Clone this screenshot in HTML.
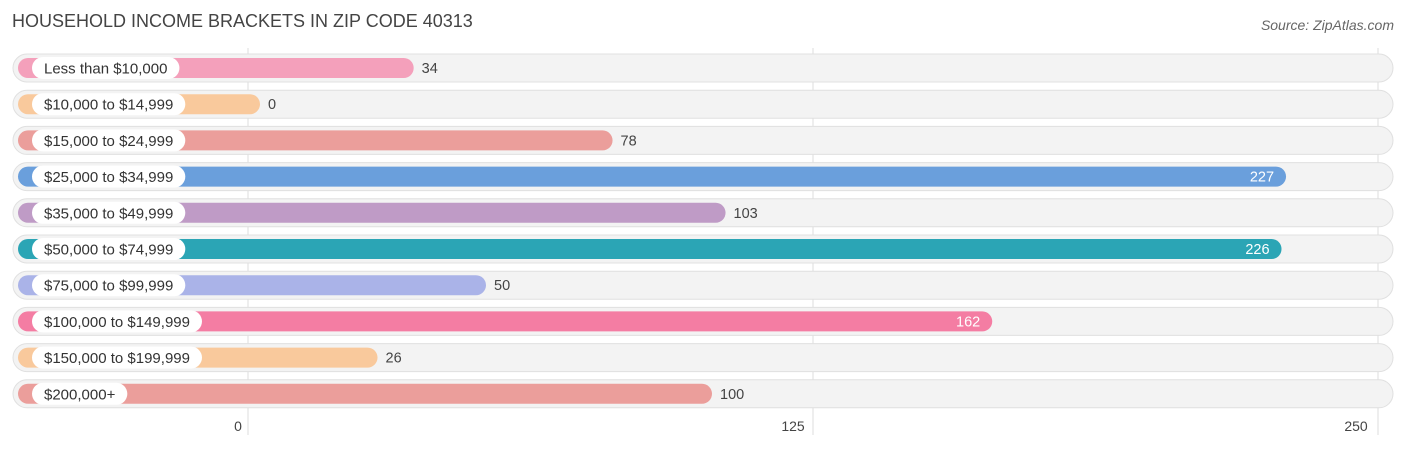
<!DOCTYPE html>
<html><head><meta charset="utf-8"><style>
body{margin:0;background:#fff;font-family:"Liberation Sans",sans-serif;}
svg{display:block}
</style></head><body>
<svg id="c" width="1406" height="449">
<text x="12" y="27" font-size="18" fill="#444">HOUSEHOLD INCOME BRACKETS IN ZIP CODE 40313</text>
<text x="1394" y="30" font-size="14" font-style="italic" fill="#666" text-anchor="end">Source: ZipAtlas.com</text>
</svg>
<script>
const categories=["Less than $10,000","$10,000 to $14,999","$15,000 to $24,999","$25,000 to $34,999","$35,000 to $49,999","$50,000 to $74,999","$75,000 to $99,999","$100,000 to $149,999","$150,000 to $199,999","$200,000+"];
const values=[34,0,78,227,103,226,50,162,26,100];
const colors=["#f4a0bb","#f9c99c","#eb9e9b","#6a9fdc","#bf9bc6","#2ba5b5","#aab3e8","#f47da3","#f9c99c","#eb9e9b"];
const ticks=[0,125,250];
const NS="http://www.w3.org/2000/svg";
const svg=document.getElementById('c');
const x=v=>248+v*(565/125);
const y=i=>68+i*36.2;
function mk(t,a,p){const e=document.createElementNS(NS,t);for(const k in a)e.setAttribute(k,a[k]);(p||svg).appendChild(e);return e;}
ticks.forEach((t,i)=>{
 const l=mk('line',{x1:x(t),x2:x(t),y1:48,y2:435,stroke:'#ddd','stroke-width':1});
 
 
 const tx=mk('text',{x:x(t)+(i==0?-10:i==2?-22:-20),y:431,'font-size':14,fill:'#444','text-anchor':'middle'});
 tx.textContent=t;
 
 
});
categories.forEach((c,i)=>{
 const cy=y(i);
 const g=mk('g',{});
 
 
 mk('rect',{x:13,y:cy-14,width:1380,height:28,rx:14,fill:'#f3f3f3',stroke:'#e0e0e0','stroke-width':1},g);
 const end=x(values[i])+12;
 const b=mk('rect',{x:18,y:cy-10,width:end-18,height:20,rx:10,fill:colors[i]},g);
 
 
 const pill=mk('rect',{x:32,y:cy-11,width:150,height:22,rx:11,fill:'#fff'},g);
 const lt=mk('text',{x:44,y:cy+5.5,'font-size':15,fill:'#333'},g);
 lt.textContent=c;
 
 
 pill.setAttribute('width',lt.getComputedTextLength()+24);
 const inside=values[i]>150;
 const vt=mk('text',{x:inside?end-12:end+8,y:cy+5,'font-size':14.5,fill:inside?'#fff':'#444','text-anchor':inside?'end':'start'},g);
 vt.textContent=values[i];
 
 
});
</script>
</body></html>
